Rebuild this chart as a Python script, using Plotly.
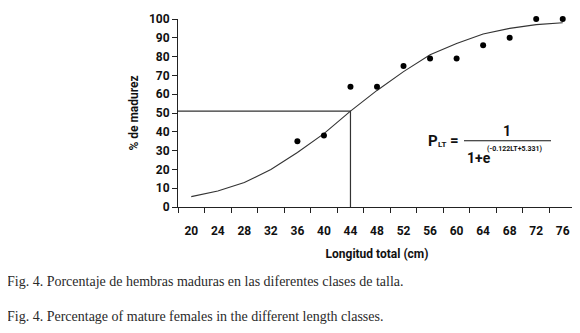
import plotly.graph_objects as go

# Data
length_classes = [20, 24, 28, 32, 36, 40, 44, 48, 52, 56, 60, 64, 68, 72, 76]
observed_x = [36, 40, 44, 48, 52, 56, 60, 64, 68, 72, 76]
observed_pct = [35, 38, 64, 64, 75, 79, 79, 86, 90, 100, 100]
fitted_pct = [5.5, 8.5, 13, 20, 29, 39, 51, 62, 72, 81, 87, 92, 95, 97, 98]
l50_length = 44
l50_pct = 51
x_min, x_max = 18, 78
y_ticks = [0, 10, 20, 30, 40, 50, 60, 70, 80, 90, 100]

# page body has an 8px margin; compensate
OFF = 8
W, H = 580 - OFF, 333 - OFF
L, R, T, B = 178 - OFF, 4, 14 - OFF, 126
pw = W - L - R
ph = H - T - B

def px(xp):
    return (xp - OFF - L) / pw

def py(yp):
    return (H - B - (yp - OFF)) / ph

fig = go.Figure()

# L50 reference lines
fig.add_trace(go.Scatter(x=[x_min, l50_length, l50_length], y=[l50_pct, l50_pct, 0],
                         mode="lines", line=dict(color="#333333", width=1.2),
                         hoverinfo="skip", showlegend=False, cliponaxis=False))
# fitted curve
fig.add_trace(go.Scatter(x=length_classes, y=fitted_pct, mode="lines",
                         line=dict(color="#333333", width=1.1),
                         showlegend=False, cliponaxis=False))
# observed
fig.add_trace(go.Scatter(x=observed_x, y=observed_pct, mode="markers",
                         marker=dict(color="#000000", size=6),
                         showlegend=False, cliponaxis=False))

tick_font = dict(family="Roboto", size=12, color="#111111", weight="bold")

fig.update_xaxes(range=[x_min, x_max], tickmode="array", tickvals=length_classes,
                 ticktext=[str(v) for v in length_classes], ticks="",
                 ticklabelstandoff=13, ticklabeloverflow="allow",
                 minor=dict(tickmode="linear", tick0=18, dtick=4, ticks="outside",
                            ticklen=5, tickcolor="#222222", tickwidth=1),
                 showline=True, linecolor="#222222", linewidth=1,
                 showgrid=False, zeroline=False, tickfont=tick_font,
                 title=dict(text="Longitud total (cm)", standoff=12,
                            font=dict(family="Roboto", size=12, color="#111111", weight="bold")))
fig.update_yaxes(range=[0, 100], tickmode="array", tickvals=y_ticks, ticks="outside",
                 ticklen=5, tickcolor="#222222", tickwidth=1, ticklabeloverflow="allow",
                 showline=True, linecolor="#222222", linewidth=1,
                 showgrid=False, zeroline=False, tickfont=tick_font,
                 title=dict(text="% de madurez", standoff=7,
                            font=dict(family="Roboto", size=12, color="#111111", weight="bold")))

bold = dict(family="Roboto", color="#111111", weight="bold")
ann = [
    dict(text="P", x=px(426), y=py(139), xanchor="left", yanchor="middle",
         font=dict(size=15, **bold)),
    dict(text="LT", x=px(436), y=py(143), xanchor="left", yanchor="middle",
         font=dict(size=8, **bold)),
    dict(text="=", x=px(454), y=py(138), xanchor="center", yanchor="middle",
         font=dict(size=15, **bold)),
    dict(text="1", x=px(507), y=py(129), xanchor="center", yanchor="middle",
         font=dict(size=14, **bold)),
    dict(text="1+e", x=px(465), y=py(157), xanchor="left", yanchor="middle",
         font=dict(size=14, **bold)),
    dict(text="(-0.122LT+5.331)", x=px(485), y=py(147), xanchor="left", yanchor="middle",
         font=dict(size=7, **bold)),
    dict(text="Fig. 4. Porcentaje de hembras maduras en las diferentes clases de talla.",
         x=px(5), y=py(283), xanchor="left", yanchor="middle",
         font=dict(family="Liberation Serif", size=14, color="#2a2a2a")),
    dict(text="Fig. 4. Percentage of mature females in the different length classes.",
         x=px(5), y=py(319), xanchor="left", yanchor="middle",
         font=dict(family="Liberation Serif", size=14, color="#2a2a2a")),
]
for a in ann:
    a.update(xref="paper", yref="paper", showarrow=False)

fig.update_layout(
    width=W, height=H, margin=dict(l=L, r=R, t=T, b=B, pad=0),
    paper_bgcolor="white", plot_bgcolor="white",
    annotations=ann,
    shapes=[dict(type="line", xref="paper", yref="paper", x0=px(464), x1=px(551),
                 y0=py(139), y1=py(139), line=dict(color="#111111", width=1))],
)

fig.write_html("out.html")
